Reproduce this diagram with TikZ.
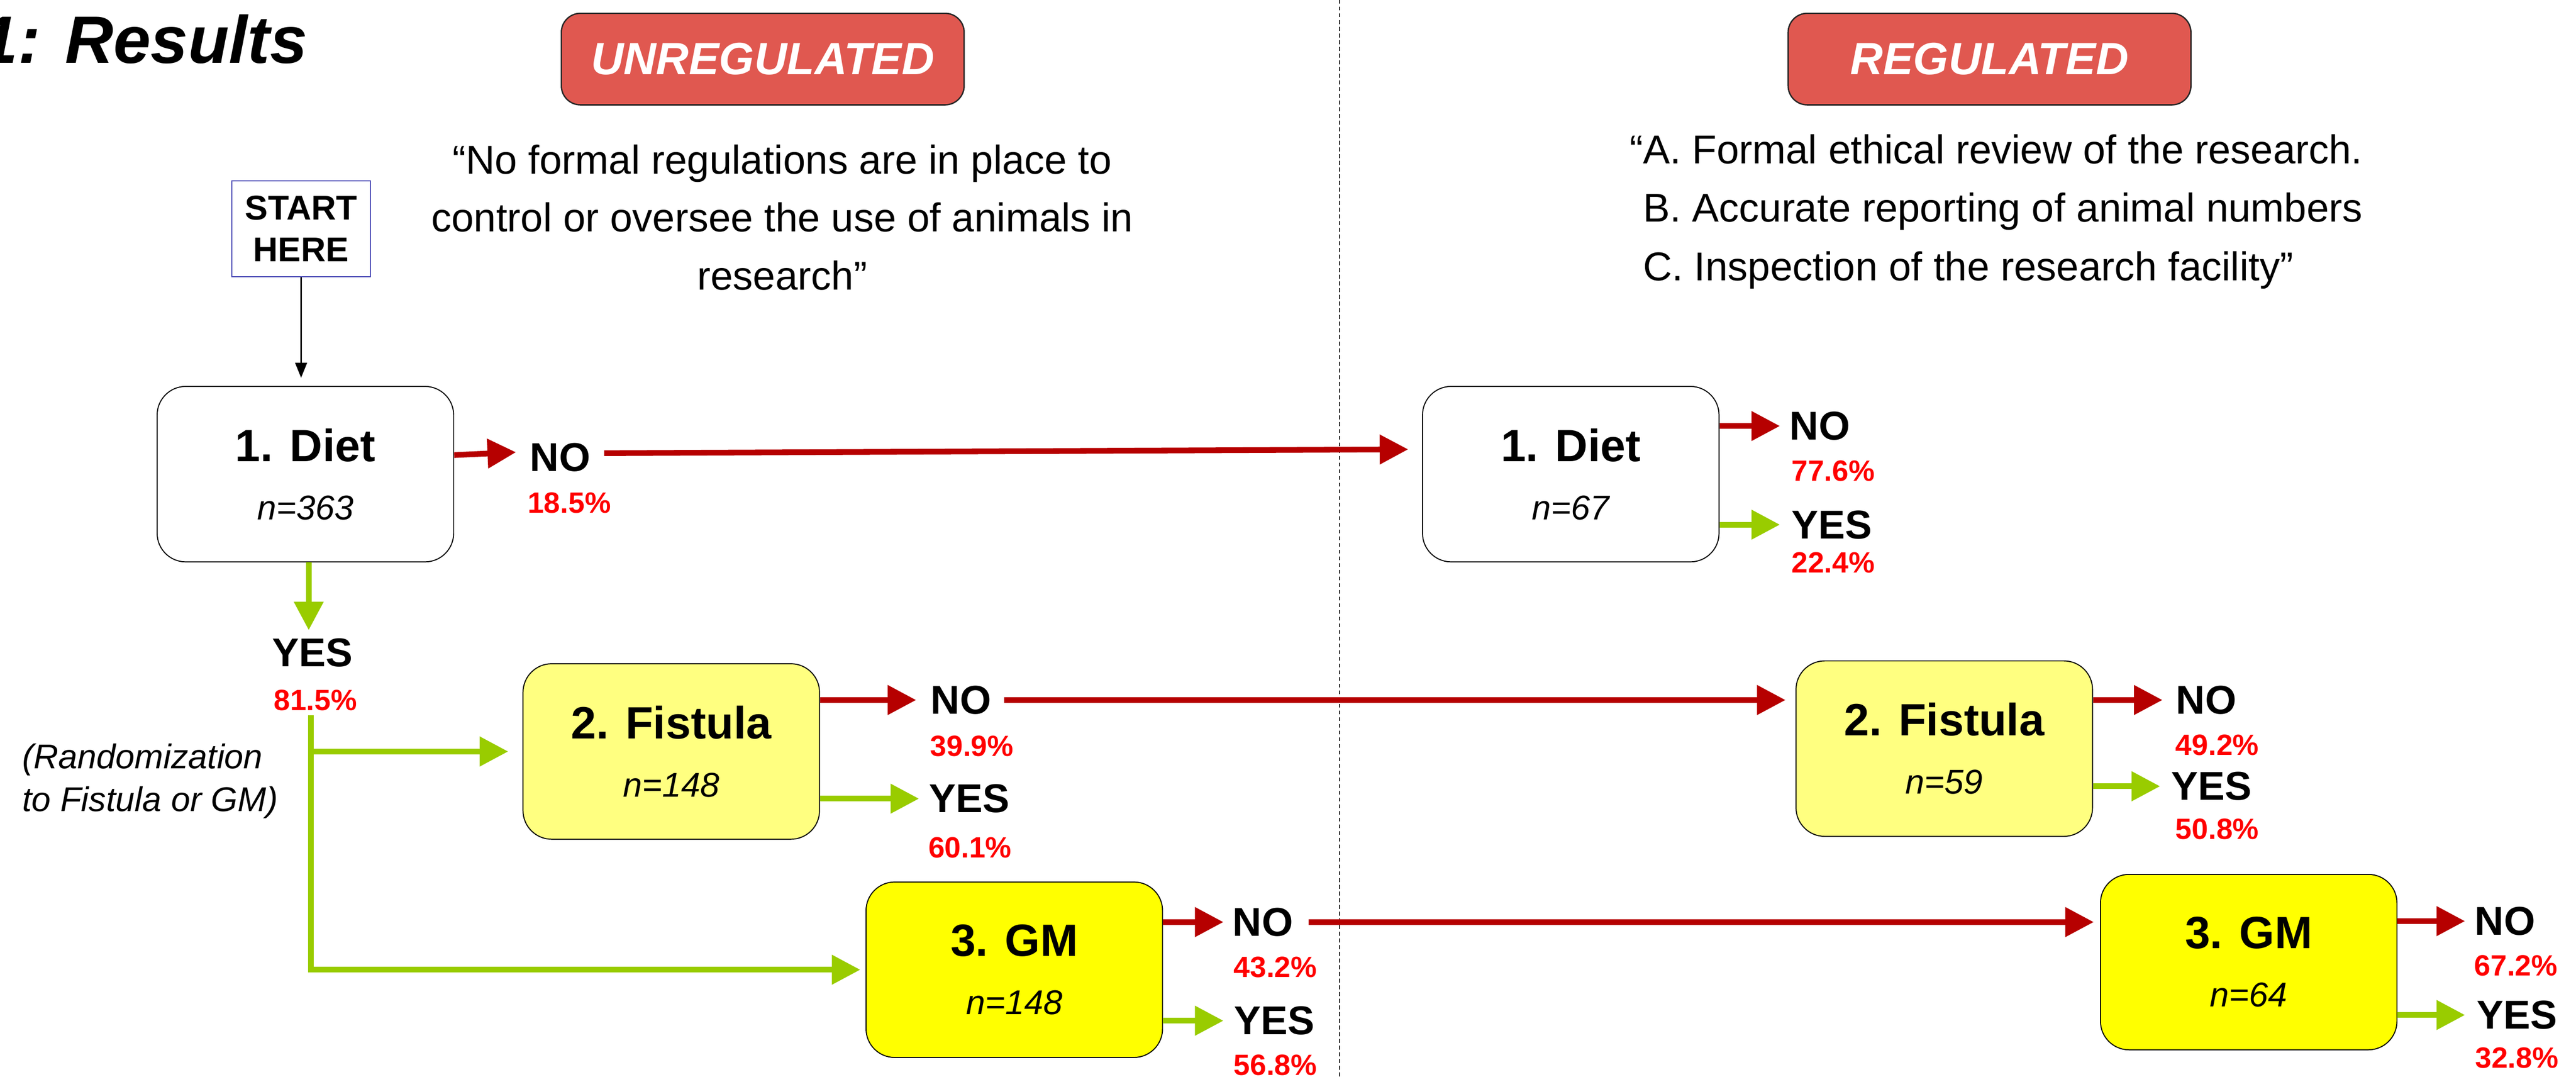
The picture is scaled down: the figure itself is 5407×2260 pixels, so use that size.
\documentclass[tikz,border=0pt]{standalone}
\usepackage{fontspec}
\setmainfont{Liberation Sans}
\usetikzlibrary{arrows.meta}
\definecolor{arrred}{RGB}{182,0,0}
\definecolor{arrgreen}{RGB}{153,204,0}
\definecolor{pctred}{RGB}{255,0,0}
\definecolor{hdrred}{RGB}{224,88,80}
\definecolor{lightyel}{RGB}{255,255,128}
\definecolor{fullyel}{RGB}{255,255,0}
\definecolor{startblue}{RGB}{70,70,180}
\newcommand{\fsz}[2]{\fontsize{#1}{#2}\selectfont}
\tikzset{
  box/.style={draw=black, line width=0.6pt, rounded corners=0.6cm, minimum width=6.22cm,
    minimum height=3.68cm, align=center, inner sep=0pt, font=\fsz{27}{34.7}\bfseries},
  hdr/.style={draw=black!85, fill=hdrred, line width=0.8pt, rounded corners=0.4cm,
    minimum width=8.45cm, minimum height=1.92cm, inner sep=0pt, text=white,
    font=\fsz{27}{32}\bfseries\itshape},
  yn/.style={inner sep=0pt, anchor=west, font=\fsz{24}{28}\bfseries},
  pct/.style={inner sep=0pt, anchor=base west, text=pctred, font=\fsz{17.5}{20}\bfseries},
  redarr/.style={draw=arrred, line width=3.4pt, -{Triangle[length=17pt,width=17pt]}},
  greenarr/.style={draw=arrgreen, line width=3.4pt, -{Triangle[length=17pt,width=17pt]}},
  blkarr/.style={draw=black, line width=1pt, -{Triangle[length=9pt,width=7pt]}},
  quote/.style={inner sep=0pt, font=\fsz{24}{34.6}},
}
\begin{document}
\begin{tikzpicture}[x=0.01cm, y=-0.01cm]
\fill[white] (0,0) rectangle (5407,2260);
\useasboundingbox (0,0) rectangle (5407,2260);

% divider
\coordinate (divtop) at (2812,0);
\coordinate (divbot) at (2812,2260);
\draw[draw=black!85, line width=0.55pt, dash pattern=on 2.3pt off 1.7pt] (divtop) -- (divbot);

% title
\node[anchor=base west, inner sep=0pt, font=\fsz{40}{48}\bfseries\itshape] (title) at (-41,132) {1: Results};

% headers
\node[hdr] (hunreg) at (1601,124) {UNREGULATED};
\node[hdr] (hreg) at (4176,124) {REGULATED};

% quotes
\node[quote, align=center, anchor=base] (qleft) at (1642,608)
  {“No formal regulations are in place to\\control or oversee the use of animals in\\research”};
\node[quote, align=left, anchor=base west, font=\fsz{24}{35}] (qright) at (3448,589)
  {\llap{“}A. Formal ethical review of the research.\\B. Accurate reporting of animal numbers\\C. Inspection of the research facility”};

% start
\node[draw=startblue, line width=0.6pt, minimum width=2.90cm, minimum height=2.01cm, inner sep=0pt,
  align=center, font=\fsz{20.5}{25}\bfseries] (start) at (632,480) {START\\HERE};

% boxes
\node[box, fill=white] (d1) at (641,995) {1. Diet\\{\fsz{20.5}{34.7}\mdseries\itshape n=363}};
\node[box, fill=white] (d2) at (3297,995) {1. Diet\\{\fsz{20.5}{34.7}\mdseries\itshape n=67}};
\node[box, fill=lightyel] (f1) at (1409,1577) {2. Fistula\\{\fsz{20.5}{34.7}\mdseries\itshape n=148}};
\node[box, fill=lightyel] (f2) at (4081,1571) {2. Fistula\\{\fsz{20.5}{34.7}\mdseries\itshape n=59}};
\node[box, fill=fullyel] (g1) at (2129,2035) {3. GM\\{\fsz{20.5}{34.7}\mdseries\itshape n=148}};
\node[box, fill=fullyel] (g2) at (4720,2019) {3. GM\\{\fsz{20.5}{34.7}\mdseries\itshape n=64}};

% randomization note
\node[anchor=base west, align=left, inner sep=0pt, font=\fsz{20.5}{25.6}\itshape] (rand) at (46,1703)
  {(Randomization\\to Fistula or GM)};

% labels: left column
\node[yn] (no1) at (1112,960) {NO};
\node[pct] (p1) at (1107,1077) {18.5\%};
\node[yn, anchor=base] (yes1) at (656,1399) {YES};
\node[pct, anchor=base] (p2) at (662,1491) {81.5\%};
\node[yn] (no2) at (1953,1469) {NO};
\node[pct] (p3) at (1952,1587) {39.9\%};
\node[yn] (yes2) at (1950,1676) {YES};
\node[pct] (p4) at (1948,1800) {60.1\%};
\node[yn] (no3) at (2587,1935) {NO};
\node[pct] (p5) at (2589,2051) {43.2\%};
\node[yn] (yes3) at (2590,2142) {YES};
\node[pct] (p6) at (2589,2256) {56.8\%};

% labels: right column
\node[yn] (no4) at (3756,894) {NO};
\node[pct] (p7) at (3760,1010) {77.6\%};
\node[yn] (yes4) at (3760,1101) {YES};
\node[pct] (p8) at (3760,1202) {22.4\%};
\node[yn] (no5) at (4567,1469) {NO};
\node[pct] (p9) at (4566,1585) {49.2\%};
\node[yn] (yes5) at (4557,1650) {YES};
\node[pct] (p10) at (4566,1761) {50.8\%};
\node[yn] (no6) at (5194,1933) {NO};
\node[pct] (p11) at (5193,2048) {67.2\%};
\node[yn] (yes6) at (5198,2130) {YES};
\node[pct] (p12) at (5195,2241) {32.8\%};

% connectors
\draw[blkarr, shorten >=0.17cm] (start.south) -- (start.south |- d1.north);
\draw[greenarr, shorten >=0.17cm] ([xshift=0.07cm]d1.south) -- ([xshift=0.07cm]d1.south |- yes1.north);
\coordinate (trunk) at (653,1501);
\draw[greenarr, shorten >=0.11cm] (trunk) |- (g1.west);
\draw[greenarr, shorten >=0.30cm] (trunk) |- (f1.west);

\draw[redarr] ([yshift=0.40cm]d1.east) -- ([xshift=-0.29cm,yshift=0.11cm]no1.west);
\draw[redarr] ([xshift=0.28cm,yshift=0.09cm]no1.east) -- ([xshift=-0.29cm,yshift=0.52cm]d2.west);

\draw[redarr, shorten >=0.30cm] (f1.east |- no2.west) -- (no2.west);
\draw[greenarr, shorten >=0.21cm] (f1.east |- yes2.west) -- (yes2.west);
\draw[redarr, shorten <=0.27cm, shorten >=0.21cm] (no2.east) -- (f2.west |- no2.east);

\draw[redarr, shorten >=0.19cm] (g1.east |- no3.west) -- (no3.west);
\draw[greenarr, shorten >=0.22cm] (g1.east |- yes3.west) -- (yes3.west);
\draw[redarr, shorten <=0.32cm, shorten >=0.13cm] (no3.east) -- (g2.west |- no3.east);

\draw[redarr, shorten >=0.20cm] (d2.east |- no4.west) -- (no4.west);
\draw[greenarr, shorten >=0.24cm] (d2.east |- yes4.west) -- (yes4.west);
\draw[redarr, shorten >=0.28cm] (f2.east |- no5.west) -- (no5.west);
\draw[greenarr, shorten >=0.23cm] (f2.east |- yes5.west) -- (yes5.west);
\draw[redarr, shorten >=0.20cm] (g2.east |- no6.west) -- (no6.west);
\draw[greenarr, shorten >=0.24cm] (g2.east |- yes6.west) -- (yes6.west);
\end{tikzpicture}
\end{document}
